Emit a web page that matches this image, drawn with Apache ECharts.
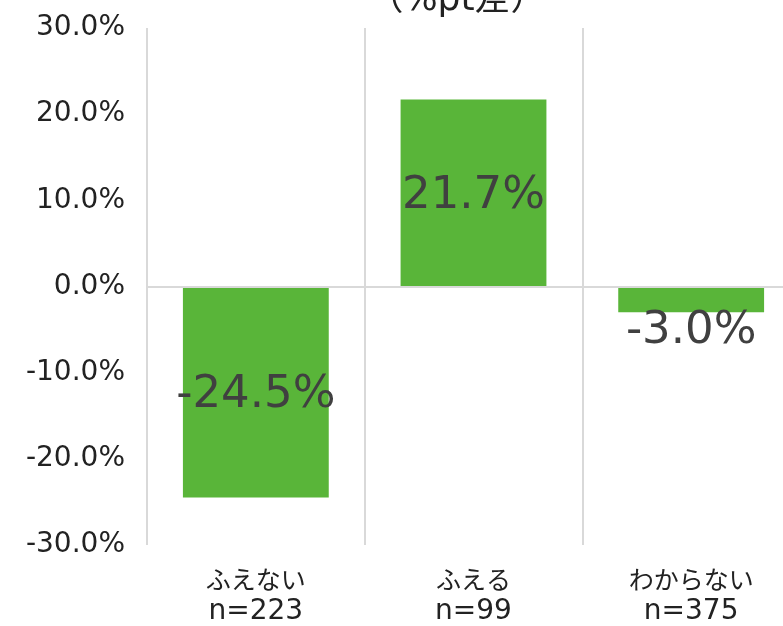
<!DOCTYPE html>
<html>
<head>
<meta charset="utf-8">
<script src="https://cdn.jsdelivr.net/npm/echarts@6/dist/echarts.min.js"></script>
<style>
html,body{margin:0;padding:0;background:#fff;}
#chart{width:783px;height:626px;}
</style>
</head>
<body>
<div id="chart"></div>
<script>
// Groups, sample sizes and the percentage-point differences
const groups = ['ふえない', 'ふえる', 'わからない'];
const sampleSizes = [223, 99, 375];
const diffValues = [-24.5, 21.7, -3.0];
const yTicks = { min: -30, max: 30, interval: 10 };

const FONT = "'DejaVu Sans', 'Noto Sans CJK JP', sans-serif";
const chart = echarts.init(document.getElementById('chart'));

chart.setOption({
  animation: false,
  title: {
    text: '（%pt差）',
    left: 452,
    top: -22,
    textAlign: 'center',
    textStyle: { fontFamily: FONT, fontSize: 36, fontWeight: 'normal', color: '#222' }
  },
  // the plot runs past the right edge of the page
  grid: {
    left: 147, top: 28, width: 653, height: 517,
    containLabel: false,
    outerBoundsMode: 'none'
  },
  xAxis: {
    type: 'category',
    data: groups,
    axisLine: { show: false },
    axisTick: { show: false },
    splitLine: { show: true, interval: 0, lineStyle: { color: '#d9d9d9', width: 2 } },
    axisLabel: {
      interval: 0,
      margin: 18,
      color: '#222',
      formatter: (name, i) => '{g|' + name + '}\n{n|n=' + sampleSizes[i] + '}',
      rich: {
        g: { fontFamily: "'Noto Sans CJK JP'", fontSize: 25, lineHeight: 32, color: '#222' },
        n: { fontFamily: FONT, fontSize: 28, lineHeight: 34, color: '#222' }
      }
    }
  },
  yAxis: {
    type: 'value',
    min: yTicks.min,
    max: yTicks.max,
    interval: yTicks.interval,
    axisLine: { show: false },
    axisTick: { show: false },
    splitLine: { show: false },
    axisLabel: {
      margin: 22,
      fontFamily: FONT,
      fontSize: 28,
      color: '#222',
      formatter: v => v.toFixed(1) + '%'
    }
  },
  series: [{
    type: 'bar',
    data: diffValues.map((v, i) => ({
      value: v,
      label: i === 2 ? { position: 'inside', offset: [0, 32] } : undefined
    })),
    barWidth: '67%',
    itemStyle: { color: '#59b539' },
    label: {
      show: true,
      position: 'inside',
      offset: [0, 3],
      fontFamily: FONT,
      fontSize: 45,
      color: '#404040',
      formatter: p => p.value.toFixed(1) + '%'
    },
    markLine: {
      silent: true,
      symbol: 'none',
      label: { show: false },
      lineStyle: { color: '#d9d9d9', width: 2, type: 'solid' },
      data: [{ yAxis: 0 }]
    }
  }]
});
</script>
</body>
</html>
